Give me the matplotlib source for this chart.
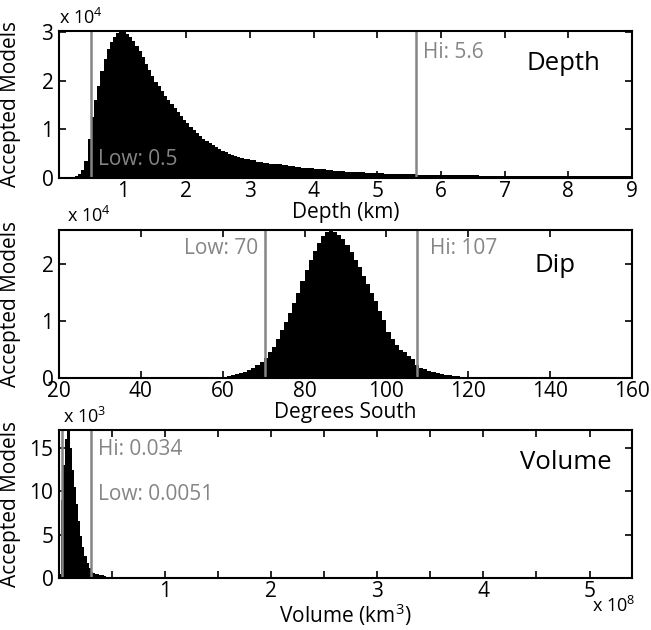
import numpy as np
import matplotlib
matplotlib.use('Agg')
import matplotlib.pyplot as plt
from matplotlib.ticker import FixedLocator, NullFormatter

plt.rcParams['font.family'] = ['Open Sans', 'DejaVu Sans']
plt.rcParams['mathtext.fontset'] = 'custom'
plt.rcParams['mathtext.rm'] = 'Open Sans'
plt.rcParams['mathtext.it'] = 'Open Sans'

# depth histogram (counts x 1e4), fine bins to 3 km, coarser after
depth_edges = np.concatenate([np.arange(0, 3.0, 0.05), np.arange(3.0, 9.01, 0.1)])
depth_counts = [
    0.0, 0.005, 0.01, 0.015, 0.03, 0.05, 0.09, 0.16, 0.35, 0.8,
    1.25, 1.6, 1.9, 2.2, 2.45, 2.65, 2.8, 2.9, 2.97, 3.02,
    3.0, 2.96, 2.9, 2.82, 2.72, 2.61, 2.48, 2.35, 2.22, 2.09,
    1.98, 1.88, 1.78, 1.69, 1.6, 1.52, 1.44, 1.36, 1.28, 1.2,
    1.12, 1.05, 0.98, 0.92, 0.86, 0.8, 0.76, 0.72, 0.67, 0.63,
    0.59, 0.56, 0.53, 0.5, 0.48, 0.46, 0.44, 0.42, 0.4, 0.38,
    0.36, 0.33, 0.31, 0.29, 0.28, 0.26, 0.25, 0.23, 0.21, 0.2,
    0.19, 0.18, 0.16, 0.15, 0.14, 0.13, 0.12, 0.12, 0.11, 0.1,
    0.1, 0.09, 0.09, 0.085, 0.08, 0.075, 0.07, 0.07, 0.065, 0.065,
    0.06, 0.06, 0.06, 0.055, 0.055, 0.055, 0.05, 0.05, 0.05, 0.05,
    0.05, 0.045, 0.05, 0.045, 0.045, 0.045, 0.045, 0.04, 0.045, 0.04,
    0.04, 0.04, 0.04, 0.035, 0.04, 0.035, 0.04, 0.035, 0.035, 0.035,
]
depth_low, depth_hi = 0.5, 5.6

# dip histogram (counts x 1e4), 1 degree bins from 40
dip_edges = np.arange(40, 124)
dip_counts = [
    0, 0, 0, 0, 0.001,
    0.001, 0.001, 0.002, 0.002, 0.002, 0.002, 0.003, 0.003, 0.003, 0.004, 0.004,
    0.005, 0.007, 0.01, 0.015, 0.02, 0.03, 0.045, 0.065, 0.09, 0.11,
    0.14, 0.18, 0.22, 0.28, 0.36, 0.45, 0.55, 0.68, 0.84, 0.98,
    1.15, 1.32, 1.5, 1.7, 1.9, 2.08, 2.24, 2.38, 2.5, 2.56,
    2.6, 2.57, 2.52, 2.44, 2.33, 2.22, 2.08, 1.95, 1.8, 1.65,
    1.5, 1.35, 1.18, 1.02, 0.8, 0.68, 0.58, 0.5, 0.45, 0.39,
    0.33, 0.22, 0.18, 0.15, 0.13, 0.11, 0.09, 0.07, 0.06, 0.05,
    0.04, 0.03, 0.02, 0.015, 0.01, 0.005, 0.003,
]
dip_low, dip_hi = 70.4, 107.5

# volume histogram (counts x 1e3, volume x 1e8)
vol_edges = np.arange(0, 0.53, 0.02)
vol_counts = [
    0.5, 9.0, 13.0, 16.0, 17.1, 15.0, 12.5, 10.5, 8.5, 6.6,
    4.9, 3.6, 2.5, 1.7, 1.2, 0.7, 0.6, 0.5, 0.45, 0.35,
    0.3, 0.22, 0.17, 0.12, 0.08, 0.05,
]
vol_low, vol_hi = 0.025, 0.30

grey = '#858585'
fs = 15
mfs = 13

fig = plt.figure(figsize=(6.51, 6.30), dpi=100)
ax1 = fig.add_axes([0.0906, 0.7175, 0.8802, 0.2333])
ax2 = fig.add_axes([0.0906, 0.4000, 0.8802, 0.2349])
ax3 = fig.add_axes([0.0906, 0.0825, 0.8802, 0.2350])


def style(ax):
    for s in ax.spines.values():
        s.set_linewidth(1.5)
    ax.tick_params(direction='in', top=True, right=True, length=5, width=1.2,
                   labelsize=fs)
    ax.tick_params(axis='x', pad=2)
    ax.tick_params(axis='y', pad=4)
    ax.tick_params(which='minor', direction='in', top=True, right=True, length=5, width=1.2)
    ax.set_ylabel('Accepted Models', fontsize=fs)


# Depth
ax1.stairs(depth_counts, depth_edges, fill=True, color='black', linewidth=0)
ax1.axvline(depth_low, color=grey, lw=1.8)
ax1.axvline(depth_hi, color=grey, lw=1.8)
ax1.set_xlim(0, 9)
ax1.set_ylim(0, max(depth_counts))
ax1.set_xticks(range(1, 10))
ax1.set_yticks([0, 1, 2, 3])
ax1.set_xlabel('Depth (km)', fontsize=fs, labelpad=0)
ax1.text(0.62, 0.37, 'Low: 0.5', color=grey, fontsize=fs, va='center', ha='left')
ax1.text(5.72, 2.57, 'Hi: 5.6', color=grey, fontsize=fs, va='center', ha='left')
ax1.text(0.88, 0.78, 'Depth', transform=ax1.transAxes, fontsize=18.5, ha='center', va='center')
ax1.text(0.0, 1.02, r'x 10$^{4}$', transform=ax1.transAxes, fontsize=mfs, ha='left', va='bottom')
style(ax1)

# Dip
ax2.stairs(dip_counts, dip_edges, fill=True, color='black', linewidth=0)
ax2.axvline(dip_low, color=grey, lw=1.8)
ax2.axvline(dip_hi, color=grey, lw=1.8)
ax2.set_xlim(20, 160)
ax2.set_ylim(0, max(dip_counts))
ax2.set_xticks(range(20, 161, 20))
ax2.set_yticks([0, 1, 2])
ax2.set_xlabel('Degrees South', fontsize=fs, labelpad=0)
ax2.text(68.6, 2.28, 'Low: 70', color=grey, fontsize=fs, va='center', ha='right')
ax2.text(110.6, 2.28, 'Hi: 107', color=grey, fontsize=fs, va='center', ha='left')
ax2.text(0.865, 0.76, 'Dip', transform=ax2.transAxes, fontsize=18.5, ha='center', va='center')
ax2.text(0.014, 1.03, r'x 10$^{4}$', transform=ax2.transAxes, fontsize=mfs, ha='left', va='bottom')
style(ax2)

# Volume
ax3.stairs(vol_counts, vol_edges, fill=True, color='black', linewidth=0)
ax3.axvline(vol_low, color=grey, lw=1.8)
ax3.axvline(vol_hi, color=grey, lw=1.8)
ax3.set_xlim(0, 5.4)
ax3.set_ylim(0, max(vol_counts))
ax3.set_xticks([1, 2, 3, 4, 5])
ax3.xaxis.set_minor_locator(FixedLocator([0.5, 1.5, 2.5, 3.5, 4.5]))
ax3.xaxis.set_minor_formatter(NullFormatter())
ax3.set_yticks([0, 5, 10, 15])
ax3.set_xlabel(r'Volume (km$^{3}$)', fontsize=fs, labelpad=0)
ax3.text(0.37, 14.8, 'Hi: 0.034', color=grey, fontsize=fs, va='center', ha='left')
ax3.text(0.37, 9.6, 'Low: 0.0051', color=grey, fontsize=fs, va='center', ha='left')
ax3.text(0.885, 0.78, 'Volume', transform=ax3.transAxes, fontsize=18.5, ha='center', va='center')
ax3.text(0.007, 1.02, r'x 10$^{3}$', transform=ax3.transAxes, fontsize=mfs, ha='left', va='bottom')
ax3.text(0.93, -0.19, r'x 10$^{8}$', transform=ax3.transAxes, fontsize=mfs, ha='left', va='center')
style(ax3)

for ax in (ax1, ax2, ax3):
    ax.yaxis.set_label_coords(-0.066, 0.5)

fig.savefig('out.png', dpi=100)
